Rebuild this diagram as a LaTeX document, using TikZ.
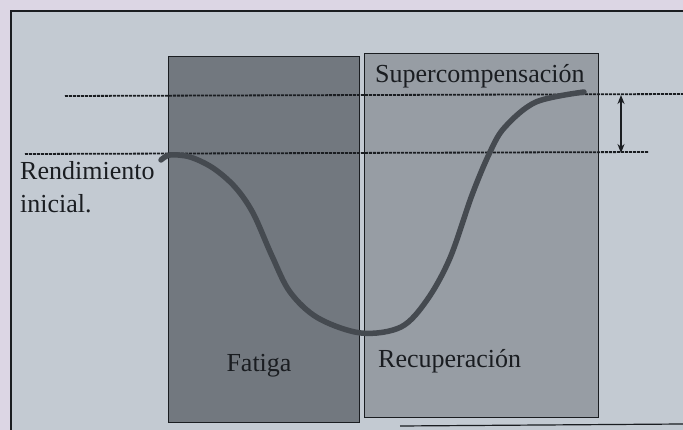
\documentclass[tikz,border=0pt]{standalone}
\usepackage{fontspec}
\setmainfont{Liberation Serif}
\usetikzlibrary{arrows.meta}
\definecolor{pagebg}{HTML}{C3CAD2}
\definecolor{topbg}{HTML}{DCD6E4}
\definecolor{fatfill}{HTML}{72787F}
\definecolor{recfill}{HTML}{979DA4}
\definecolor{ink}{HTML}{1A1D21}
\definecolor{curvec}{HTML}{454A50}
\tikzset{
  phase/.style={draw=ink, line width=1.4pt, anchor=north west, inner sep=0pt},
  level/.style={draw=ink, line width=1.8pt, dash pattern=on 3pt off 1pt},
  lbl/.style={font=\fontsize{26}{32}\selectfont, text=ink, inner sep=0pt},
  perf/.style={draw=curvec, line width=5.5pt, line cap=round, line join=round},
}
\begin{document}
\begin{tikzpicture}[x=1pt, y=-1pt]
\useasboundingbox (0,0) rectangle (683,430);
\fill[topbg] (0,0) rectangle (683,430);
\fill[pagebg] (11,11) rectangle (683,430);
\draw[ink, line width=1.4pt] (11,430) -- (11,11) -- (683,11);
\draw[ink, line width=1.2pt] (400,426) -- (683,424);
% phase boxes
\node[phase, fill=fatfill, minimum width=191pt, minimum height=366pt] (fat) at (168,56) {};
\node[phase, fill=recfill, minimum width=234pt, minimum height=364pt] (rec) at (364,53) {};
% levels
\coordinate (supL) at (65,96);
\coordinate (supR) at (683,94);
\coordinate (iniL) at (25,154);
\coordinate (iniR) at (648,152);
\draw[level] (supL) -- (supR);
\draw[level] (iniL) -- (iniR);
\coordinate (arT) at (621,95);
\coordinate (arB) at (621,153);
\draw[ink, line width=1.5pt, {Stealth[length=9pt,width=7pt]}-{Stealth[length=9pt,width=7pt]}] (arT) -- (arB);
% performance curve
\draw[perf] plot[smooth, tension=0.55] coordinates {
  (161,160) (170,155) (190,157) (213,168) (235,187) (253,213) (272,256)
  (290,292) (318,318) (361,333) (401,327) (427,300) (450,258) (472,195)
  (490,152) (505,127) (536,102) (584,92)};
% labels
\node[lbl, anchor=base west] (sup) at (375,83) {Supercompensación};
\node[lbl, anchor=base west] (ini) at (20,180) {Rendimiento};
\node[lbl, anchor=base west] (ini2) at (20,213) {inicial.};
\node[lbl, anchor=base] (fatl) at (259,372) {Fatiga};
\node[lbl, anchor=base west] (recl) at (378,368) {Recuperación};
\end{tikzpicture}
\end{document}
